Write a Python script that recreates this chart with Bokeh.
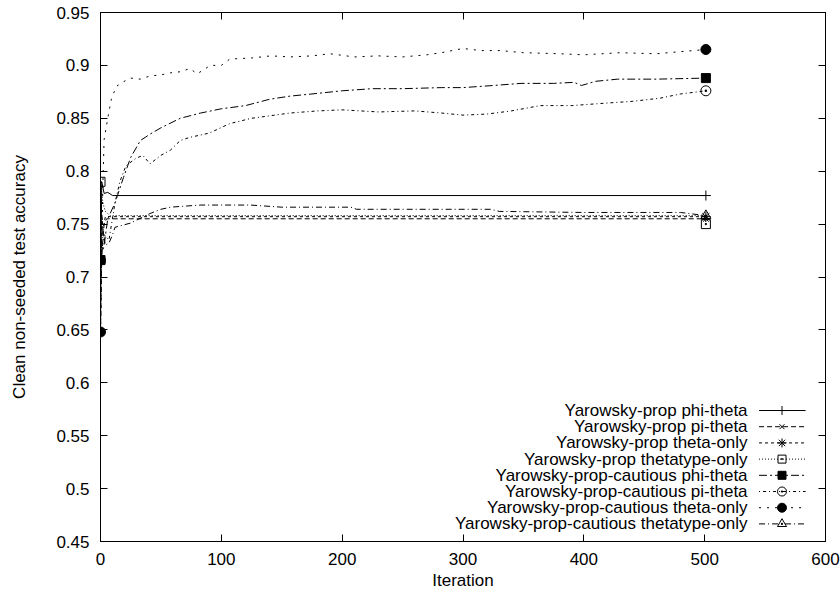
from bokeh.plotting import figure
from bokeh.models import Range1d, LinearAxis, FixedTicker, CustomJSTickFormatter
from bokeh.core.properties import value
from bokeh.embed import file_html
from bokeh.resources import INLINE

# ---------------- data ----------------
x_ticks = [0, 100, 200, 300, 400, 500, 600]
y_ticks = [0.45, 0.5, 0.55, 0.6, 0.65, 0.7, 0.75, 0.8, 0.85, 0.9, 0.95]
x_title = "Iteration"
y_title = "Clean non-seeded test accuracy"

names = [
    "Yarowsky-prop phi-theta",
    "Yarowsky-prop pi-theta",
    "Yarowsky-prop theta-only",
    "Yarowsky-prop thetatype-only",
    "Yarowsky-prop-cautious phi-theta",
    "Yarowsky-prop-cautious pi-theta",
    "Yarowsky-prop-cautious theta-only",
    "Yarowsky-prop-cautious thetatype-only",
]

phi_theta_x = [0, 1, 3, 6, 10, 501]
phi_theta_y = [0.648, 0.79, 0.779, 0.780, 0.777, 0.777]

pi_theta_x = [0, 1, 3, 5, 501]
pi_theta_y = [0.648, 0.72, 0.750, 0.755, 0.755]

theta_only_x = [0, 1, 2, 4, 501]
theta_only_y = [0.648, 0.76, 0.745, 0.757, 0.757]

thetatype_only_x = [0, 2, 4, 8, 500, 501]
thetatype_only_y = [0.790, 0.770, 0.762, 0.758, 0.758, 0.750]

c_phi_theta_x = [0, 3, 6, 12, 19, 25, 33, 41, 50, 66, 83, 100, 120, 140, 157,
                 175, 200, 225, 250, 282, 300, 325, 348, 375, 392, 398, 410,
                 428, 460, 501]
c_phi_theta_y = [0.716, 0.730, 0.755, 0.770, 0.794, 0.813, 0.829, 0.835, 0.841,
                 0.850, 0.855, 0.859, 0.862, 0.868, 0.871, 0.873, 0.876, 0.878,
                 0.878, 0.879, 0.879, 0.881, 0.883, 0.883, 0.884, 0.881, 0.885,
                 0.887, 0.887, 0.888]

c_pi_theta_x = [0, 3, 7, 12, 16, 21, 29, 35, 41, 50, 58, 66, 74, 90, 107, 125,
                157, 180, 200, 230, 260, 282, 300, 320, 340, 364, 390, 414, 440,
                463, 480, 501]
c_pi_theta_y = [0.716, 0.740, 0.735, 0.770, 0.790, 0.805, 0.812, 0.815, 0.807,
                0.815, 0.820, 0.829, 0.832, 0.836, 0.845, 0.850, 0.855, 0.857,
                0.858, 0.856, 0.857, 0.855, 0.853, 0.854, 0.857, 0.862, 0.862,
                0.864, 0.866, 0.869, 0.873, 0.876]

c_theta_only_x = [0, 2, 3, 6, 9, 13, 18, 25, 33, 41, 50, 58, 66, 74, 80, 91,
                  100, 107, 125, 141, 157, 175, 190, 210, 230, 250, 270, 282,
                  300, 315, 331, 350, 381, 400, 430, 460, 480, 501]
c_theta_only_y = [0.648, 0.790, 0.830, 0.850, 0.868, 0.880, 0.884, 0.888, 0.887,
                  0.890, 0.891, 0.893, 0.894, 0.897, 0.892, 0.900, 0.900, 0.906,
                  0.907, 0.909, 0.908, 0.909, 0.911, 0.908, 0.909, 0.908, 0.910,
                  0.912, 0.916, 0.914, 0.914, 0.912, 0.911, 0.910, 0.912, 0.911,
                  0.913, 0.915]

c_thetatype_only_x = [0, 2, 4, 7, 10, 12, 25, 41, 50, 58, 70, 83, 124, 150, 207,
                      212, 260, 323, 330, 400, 480, 501]
c_thetatype_only_y = [0.716, 0.745, 0.730, 0.732, 0.740, 0.747, 0.751, 0.760,
                      0.764, 0.766, 0.767, 0.768, 0.768, 0.766, 0.766, 0.764,
                      0.764, 0.764, 0.762, 0.761, 0.761, 0.758]

xs = [phi_theta_x, pi_theta_x, theta_only_x, thetatype_only_x,
      c_phi_theta_x, c_pi_theta_x, c_theta_only_x, c_thetatype_only_x]
ys = [phi_theta_y, pi_theta_y, theta_only_y, thetatype_only_y,
      c_phi_theta_y, c_pi_theta_y, c_theta_only_y, c_thetatype_only_y]

# ---------------- styles ----------------
dashes = ["solid", "5 3", "3 3", "1 2", "8 3 2 3", "1 3 3 3", "2 6", "6 3 1 3"]
markers = ["cross", "x", "asterisk", "square_dot", "square", "circle_dot",
           "circle", "triangle_dot"]
fills = [None, None, None, None, "black", None, "black", None]
msizes = [10, 8, 10, 9, 9, 10, 10, 10]

FONT = "Liberation Sans"
FS = "17px"

p = figure(width=840, height=598, output_backend="svg", toolbar_location=None,
           x_range=Range1d(0, 600), y_range=Range1d(0.45, 0.95),
           min_border_left=100, min_border_right=15, min_border_top=12,
           min_border_bottom=57)
p.background_fill_color = "white"
p.border_fill_color = "white"
p.outline_line_color = "black"
p.outline_line_width = 1
p.xgrid.visible = False
p.ygrid.visible = False

fmt = CustomJSTickFormatter(code="return String(Math.round(tick*100)/100);")
blank = CustomJSTickFormatter(code="return '';")

for ax, ticks, title in ((p.xaxis[0], x_ticks, x_title), (p.yaxis[0], y_ticks, y_title)):
    ax.ticker = FixedTicker(ticks=ticks)
    ax.formatter = fmt
    ax.major_tick_in = 7
    ax.major_tick_out = 0
    ax.minor_tick_line_color = None
    ax.axis_line_color = "black"
    ax.major_tick_line_color = "black"
    ax.major_label_text_font = FONT
    ax.major_label_text_font_size = FS
    ax.major_label_text_color = "black"
    ax.axis_label = title
    ax.axis_label_text_font = FONT
    ax.axis_label_text_font_size = FS
    ax.axis_label_text_font_style = "normal"
    ax.axis_label_text_color = "black"

p.xaxis[0].major_label_standoff = 11
p.xaxis[0].axis_label_standoff = 3
p.yaxis[0].major_label_standoff = 11
p.yaxis[0].axis_label_standoff = 24

for loc, ticks in (("right", y_ticks), ("above", x_ticks)):
    ax = LinearAxis(ticker=FixedTicker(ticks=ticks), formatter=blank)
    ax.major_tick_in = 7
    ax.major_tick_out = 0
    ax.minor_tick_line_color = None
    ax.major_label_text_font_size = "0px"
    ax.major_label_standoff = 0
    ax.axis_line_color = "black"
    p.add_layout(ax, loc)

for i in range(len(names)):
    p.line(xs[i], ys[i], line_color="black", line_width=1, line_dash=dashes[i])

for i in range(len(names)):
    px = [xs[i][0], xs[i][-1]]
    py = [ys[i][0], ys[i][-1]]
    p.scatter(px, py, marker=markers[i], size=msizes[i], line_color="black",
              line_width=1, fill_color=fills[i])

# ---------------- legend (gnuplot style, key bottom right) ----------------
leg_text_x = 535.5
leg_line_x0 = 545.0
leg_line_x1 = 583.5
leg_mark_x = 564.0
leg_top = 0.5738
leg_step = 0.01531
for i, nm in enumerate(names):
    yy = leg_top - i * leg_step
    p.text([leg_text_x], [yy], text=[nm], text_align="right",
           text_baseline="middle", text_font=value(FONT), text_font_size=FS,
           text_color="black")
    p.line([leg_line_x0, leg_line_x1], [yy, yy], line_color="black",
           line_width=1, line_dash=dashes[i])
    p.scatter([leg_mark_x], [yy], marker=markers[i], size=msizes[i] - 1,
              line_color="black", line_width=1, fill_color=fills[i])

open("out.html", "w").write(file_html(p, INLINE))
